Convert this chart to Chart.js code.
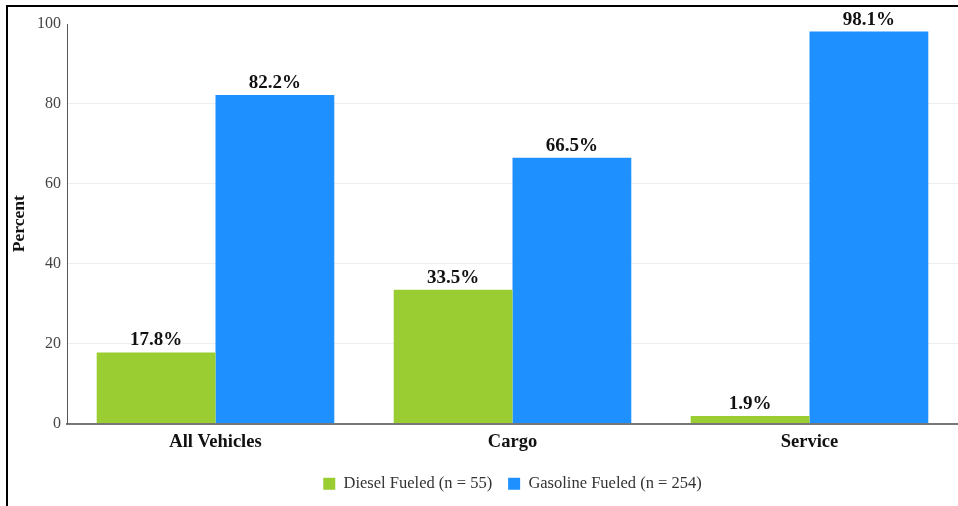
<!DOCTYPE html>
<html>
<head>
<meta charset="utf-8">
<script src="https://cdn.jsdelivr.net/npm/chart.js@4/dist/chart.umd.min.js"></script>
<style>
  html, body { margin: 0; padding: 0; background: #fff; }
  #wrap { position: relative; width: 958px; height: 506px; }
  #frame { position: absolute; left: 6px; top: 5px; right: 0; bottom: 0;
           border-top: 2px solid #000; border-left: 2px solid #000; pointer-events: none; }
  canvas { position: absolute; left: 0; top: 0; }
</style>
</head>
<body>
<div id="wrap">
  <canvas id="chart" width="958" height="506"></canvas>
  <div id="frame"></div>
</div>
<script>
const categories = ['All Vehicles', 'Cargo', 'Service'];
const dieselValues = [17.8, 33.5, 1.9];
const gasolineValues = [82.2, 66.5, 98.1];
const seriesNames = ['Diesel Fueled (n = 55)', 'Gasoline Fueled (n = 254)'];
const yTicks = [0, 20, 40, 60, 80, 100];

const SERIF = '"Liberation Serif", "Times New Roman", serif';

// Writes each bar's percentage just above its top edge
const barValueLabels = {
  id: 'barValueLabels',
  afterDatasetsDraw(chart) {
    const ctx = chart.ctx;
    ctx.save();
    ctx.font = 'bold 19px ' + SERIF;
    ctx.fillStyle = '#111';
    ctx.textAlign = 'center';
    ctx.textBaseline = 'alphabetic';
    chart.data.datasets.forEach((ds, i) => {
      chart.getDatasetMeta(i).data.forEach((bar, j) => {
        ctx.fillText(ds.data[j].toFixed(1) + '%', bar.x, bar.y - 7);
      });
    });
    ctx.restore();
  }
};

// Centres the legend under the plot area rather than the whole canvas
const legendUnderPlot = {
  id: 'legendUnderPlot',
  afterLayout(chart) {
    const lg = chart.legend;
    if (!lg) return;
    const shift = (chart.chartArea.left + chart.chartArea.right) / 2 - (lg.left + lg.right) / 2;
    lg.left += shift;
    lg.right += shift;
  }
};

new Chart(document.getElementById('chart'), {
  type: 'bar',
  data: {
    labels: categories,
    datasets: [
      { label: seriesNames[0], data: dieselValues, backgroundColor: '#9ACD32',
        categoryPercentage: 0.8, barPercentage: 1.0 },
      { label: seriesNames[1], data: gasolineValues, backgroundColor: '#1E90FF',
        categoryPercentage: 0.8, barPercentage: 1.0 }
    ]
  },
  options: {
    responsive: false,
    animation: false,
    layout: { padding: { top: 24, right: 0, bottom: 4, left: 0 } },
    plugins: {
      legend: {
        position: 'bottom',
        labels: {
          boxWidth: 12, boxHeight: 12, padding: 16,
          color: '#333',
          font: { family: SERIF, size: 16.5 }
        }
      },
      tooltip: { enabled: false }
    },
    scales: {
      x: {
        grid: { display: false, drawTicks: false },
        border: { color: '#777', width: 2 },
        ticks: { color: '#111', padding: 8, font: { family: SERIF, size: 18.5, weight: 'bold' } },
        afterFit(scale) { scale.height = 36; }
      },
      y: {
        min: 0, max: 100,
        afterBuildTicks(scale) { scale.ticks = yTicks.map(v => ({ value: v })); },
        grid: {
          drawTicks: false,
          color: c => (c.tick && c.tick.value === 100) ? 'rgba(0,0,0,0)' : '#eeeeee'
        },
        border: { color: '#555', width: 1 },
        ticks: { color: '#444', padding: 6, font: { family: SERIF, size: 16 } },
        title: {
          display: true, text: 'Percent', color: '#111',
          font: { family: SERIF, size: 17.5, weight: 'bold' },
          padding: { top: 9, bottom: 0 }
        },
        afterFit(scale) { scale.width = 67; }
      }
    }
  },
  plugins: [barValueLabels, legendUnderPlot]
});
</script>
</body>
</html>
